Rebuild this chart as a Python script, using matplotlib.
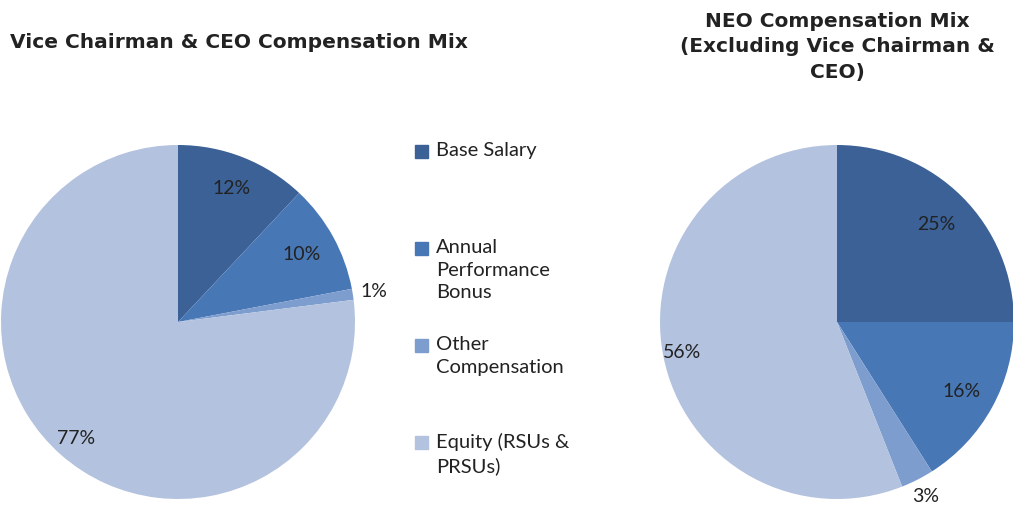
import numpy as np
import matplotlib.pyplot as plt
from matplotlib.patches import Rectangle

# data
categories = ['Base Salary', 'Annual\nPerformance\nBonus', 'Other\nCompensation', 'Equity (RSUs &\nPRSUs)']
ceo_mix = [12, 10, 1, 77]
neo_mix = [25, 16, 3, 56]
colors = ['#3b6197', '#4877b5', '#7d9dcf', '#b3c2de']

W, H = 1013, 510
fig = plt.figure(figsize=(W / 100, H / 100), dpi=100)
fig.patch.set_facecolor('white')


def pie_axes(cx, cy, r):
    # cx, cy in pixels from top-left
    ax = fig.add_axes([(cx - r) / W, (H - cy - r) / H, 2 * r / W, 2 * r / H])
    ax.axis('off')
    return ax


def draw_pie(ax, vals, dists):
    wedges, _ = ax.pie(vals, colors=colors, startangle=90, counterclock=False,
                       radius=1, wedgeprops=dict(linewidth=0))
    for w, v, d in zip(wedges, vals, dists):
        ang = np.deg2rad((w.theta1 + w.theta2) / 2)
        ax.text(d * np.cos(ang), d * np.sin(ang), f'{v}%', ha='center', va='center',
                fontsize=14, family='Lato', color='#222222', clip_on=False)
    ax.set_xlim(-1, 1)
    ax.set_ylim(-1, 1)


ax1 = pie_axes(178, 323, 177)
draw_pie(ax1, ceo_mix, [0.82, 0.8, 1.12, 0.87])

ax2 = pie_axes(837, 323, 177)
draw_pie(ax2, neo_mix, [0.79, 0.8, 1.1, 0.89])

# titles
fig.text(10 / W, 1 - 43 / H, 'Vice Chairman & CEO Compensation Mix', fontsize=14.5,
         fontweight='bold', family='DejaVu Sans', color='#222222', ha='left', va='center')
fig.text(837 / W, 1 - 47 / H, 'NEO Compensation Mix\n(Excluding Vice Chairman &\nCEO)',
         fontsize=14.5, fontweight='bold', family='DejaVu Sans', color='#222222',
         ha='center', va='center', linespacing=1.45)

# legend (Excel style, evenly spaced entries)
for i, (lab, c) in enumerate(zip(categories, colors)):
    top = 142 + i * 97
    fig.patches.append(Rectangle((415 / W, 1 - (top + 17) / H), 13 / W, 13 / H,
                                 transform=fig.transFigure, color=c))
    fig.text(436 / W, 1 - top / H, lab, fontsize=14.5, family='Lato', color='#222222',
             ha='left', va='top', linespacing=1.4)

fig.savefig('out.png', dpi=100)
